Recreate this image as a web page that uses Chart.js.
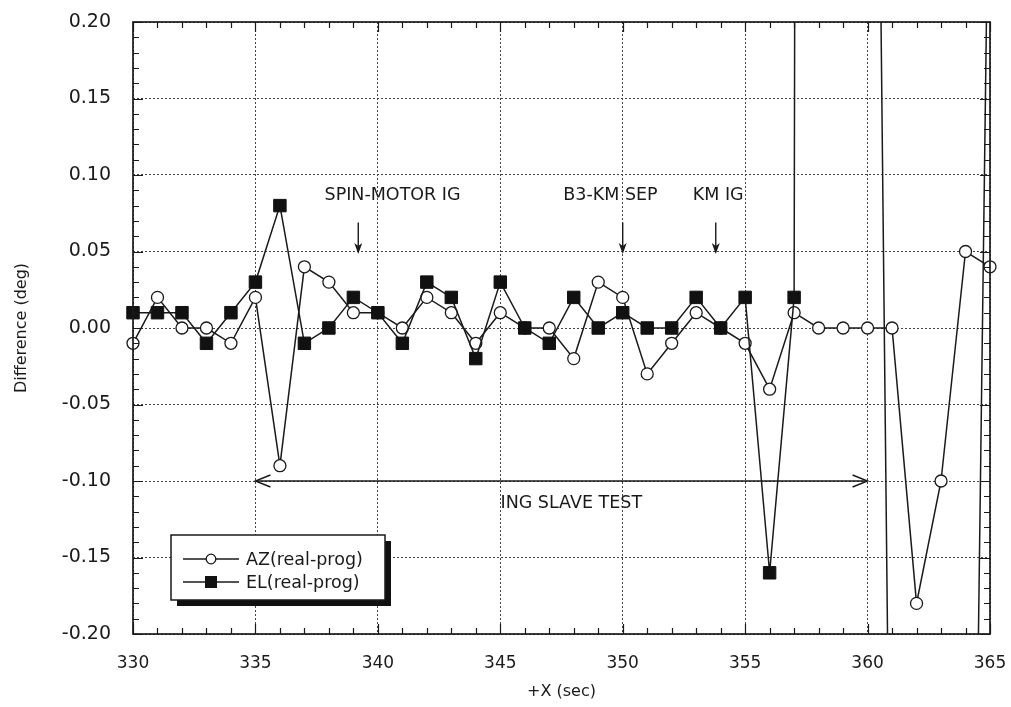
<!DOCTYPE html>
<html><head><meta charset="utf-8">
<script src="https://cdn.jsdelivr.net/npm/chart.js@4.4.1/dist/chart.umd.min.js"></script>
<style>html,body{margin:0;padding:0;background:#fff;}#wrap{width:1011px;height:707px;}</style>
</head><body><div id="wrap"><canvas id="c" width="1011" height="707"></canvas></div>
<script>
// ---- data ----
const times = [330,331,332,333,334,335,336,337,338,339,340,341,342,343,344,345,346,347,348,349,350,351,352,353,354,355,356,357,358,359,360,361,362,363,364,365];
const azValues = [-0.01,0.02,0.00,0.00,-0.01,0.02,-0.09,0.04,0.03,0.01,0.01,0.00,0.02,0.01,-0.01,0.01,0.00,0.00,-0.02,0.03,0.02,-0.03,-0.01,0.01,0.00,-0.01,-0.04,0.01,0.00,0.00,0.00,0.00,-0.18,-0.10,0.05,0.04];
// EL goes off-scale after 357 s (values beyond the axis estimated from the line slopes)
const elValues = [0.01,0.01,0.01,-0.01,0.01,0.03,0.08,-0.01,0.00,0.02,0.01,-0.01,0.03,0.02,-0.02,0.03,0.00,-0.01,0.02,0.00,0.01,0.00,0.00,0.02,0.00,0.02,-0.16,0.02,8.0,8.0,1.03,-0.48,-1.0,-1.0,-0.85,0.38];
const seriesLabels = ['AZ(real-prog)','EL(real-prog)'];
const xTickValues = [330,335,340,345,350,355,360,365];
const yTickValues = [-0.20,-0.15,-0.10,-0.05,0.00,0.05,0.10,0.15,0.20];
const xTitle = '+X (sec)';
const yTitle = 'Difference (deg)';
const eventLabels = ['SPIN-MOTOR IG','B3-KM SEP','KM IG'];
const eventTimes = [339.2,350.0,353.8];
const eventLabelTimes = [340.6,349.5,353.9];
const spanLabel = 'ING SLAVE TEST';
const spanRange = [335,360];
const spanLevel = -0.10;

const FONT = 'DejaVu Sans';
const INK = '#1a1a1a';

const annotationPlugin = {
  id:'annot',
  afterDatasetsDraw(chart){
    const {ctx, scales:{x,y}} = chart;
    ctx.save();
    ctx.fillStyle = INK; ctx.strokeStyle = INK; ctx.lineWidth = 1.4;
    ctx.font = '17.5px "'+FONT+'"';
    ctx.textAlign='center'; ctx.textBaseline='middle';
    for(let i=0;i<eventLabels.length;i++){
      ctx.fillText(eventLabels[i], x.getPixelForValue(eventLabelTimes[i]), y.getPixelForValue(0.0866));
      const ax = x.getPixelForValue(eventTimes[i]);
      const y0 = y.getPixelForValue(0.069), y1 = y.getPixelForValue(0.049);
      ctx.beginPath(); ctx.moveTo(ax,y0); ctx.lineTo(ax,y1-2); ctx.stroke();
      ctx.beginPath(); ctx.moveTo(ax,y1+1); ctx.lineTo(ax-4,y1-10); ctx.lineTo(ax,y1-7); ctx.lineTo(ax+4,y1-10); ctx.closePath(); ctx.fill();
    }
    const ly = y.getPixelForValue(spanLevel);
    const lx0 = x.getPixelForValue(spanRange[0]), lx1 = x.getPixelForValue(spanRange[1]);
    ctx.beginPath(); ctx.moveTo(lx0,ly); ctx.lineTo(lx1,ly); ctx.stroke();
    ctx.beginPath();
    ctx.moveTo(lx0+15,ly-6); ctx.lineTo(lx0,ly); ctx.lineTo(lx0+15,ly+6);
    ctx.moveTo(lx1-15,ly-6); ctx.lineTo(lx1,ly); ctx.lineTo(lx1-15,ly+6);
    ctx.stroke();
    ctx.fillText(spanLabel, x.getPixelForValue(347.9), y.getPixelForValue(-0.1148));
    ctx.restore();
  },
  afterDraw(chart){
    const {ctx, chartArea:a, scales:{x,y}} = chart;
    ctx.save();
    ctx.strokeStyle = INK; ctx.lineWidth = 1.2;
    ctx.beginPath();
    for(let v=330; v<=365; v++){
      const px = Math.round(x.getPixelForValue(v))+0.5;
      const len = (v%5===0)?10:6;
      ctx.moveTo(px,a.bottom); ctx.lineTo(px,a.bottom-len);
      ctx.moveTo(px,a.top); ctx.lineTo(px,a.top+len);
    }
    for(let k=-20; k<=20; k++){
      const py = Math.round(y.getPixelForValue(k/100))+0.5;
      const len = (k%5===0)?10:6;
      ctx.moveTo(a.left,py); ctx.lineTo(a.left+len,py);
      ctx.moveTo(a.right,py); ctx.lineTo(a.right-len,py);
    }
    ctx.stroke();
    ctx.lineWidth = 1.7;
    ctx.strokeRect(a.left, a.top, a.right-a.left, a.bottom-a.top);
    const bx=171, by=535, bw=214, bh=65;
    ctx.fillStyle = '#111';
    ctx.fillRect(bx+6, by+6, bw, bh);
    ctx.fillStyle = '#fff';
    ctx.fillRect(bx, by, bw, bh);
    ctx.lineWidth = 1.5;
    ctx.strokeRect(bx, by, bw, bh);
    const rows = [by+24, by+47];
    ctx.font = '17.5px "'+FONT+'"'; ctx.textAlign='left'; ctx.textBaseline='middle';
    for(let i=0;i<2;i++){
      const ry = rows[i];
      ctx.lineWidth = 1.3; ctx.strokeStyle = INK;
      ctx.beginPath(); ctx.moveTo(bx+12,ry); ctx.lineTo(bx+68,ry); ctx.stroke();
      if(i===0){
        ctx.beginPath(); ctx.arc(bx+40,ry,4.8,0,Math.PI*2); ctx.fillStyle='#fff'; ctx.fill(); ctx.stroke();
      } else {
        ctx.fillStyle = '#111'; ctx.fillRect(bx+34,ry-6,12,12);
      }
      ctx.fillStyle = INK;
      ctx.fillText(chart.data.datasets[i].label, bx+75, ry+1);
    }
    ctx.restore();
  }
};

const ctx = document.getElementById('c').getContext('2d');
new Chart(ctx, {
  type:'line',
  data:{datasets:[
    {label:seriesLabels[0], data:times.map((t,i)=>({x:t,y:azValues[i]})), borderColor:INK, borderWidth:1.5,
     pointStyle:'circle', pointRadius:6, pointBackgroundColor:'#fff', pointBorderColor:INK, pointBorderWidth:1.3,
     tension:0, order:1, clip:{left:12,right:12,top:0,bottom:0}},
    {label:seriesLabels[1], data:times.map((t,i)=>({x:t,y:elValues[i]})), borderColor:INK, borderWidth:1.5,
     pointStyle:'rect', pointRadius:8.8, pointBackgroundColor:'#111', pointBorderColor:'#111', pointBorderWidth:1,
     tension:0, order:0, clip:{left:12,right:12,top:0,bottom:0}}
  ]},
  options:{
    responsive:false, animation:false, devicePixelRatio:1,
    layout:{padding:{top:22,right:21,left:0,bottom:0}},
    plugins:{legend:{display:false}, tooltip:{enabled:false}},
    elements:{line:{borderJoinStyle:'miter'}},
    scales:{
      x:{type:'linear', min:330, max:365,
        afterBuildTicks:s=>{s.ticks = xTickValues.map(v=>({value:v}));},
        afterFit:s=>{s.height=73; s.paddingLeft=0; s.paddingRight=0;},
        grid:{color:'#444', lineWidth:1, drawTicks:false},
        border:{display:false, dash:[2,2]},
        ticks:{padding:19, color:INK, font:{family:FONT,size:17}, maxRotation:0, autoSkip:false, callback:v=>String(v)},
        title:{display:true, text:xTitle, color:INK, font:{family:FONT,size:16}, padding:{top:0,bottom:6}}
      },
      y:{type:'linear', min:-0.2, max:0.2,
        afterBuildTicks:s=>{s.ticks = yTickValues.map(v=>({value:v}));},
        afterFit:s=>{s.width=133; s.paddingTop=0; s.paddingBottom=0;},
        grid:{color:'#444', lineWidth:1, drawTicks:false},
        border:{display:false, dash:[2,2]},
        ticks:{padding:22, color:INK, font:{family:FONT,size:19}, autoSkip:false, callback:v=>(Math.abs(v)<1e-9?0:v).toFixed(2)},
        title:{display:true, text:yTitle, color:INK, font:{family:FONT,size:16}, padding:{top:12,bottom:0}}
      }
    }
  },
  plugins:[annotationPlugin]
});
</script></body></html>
